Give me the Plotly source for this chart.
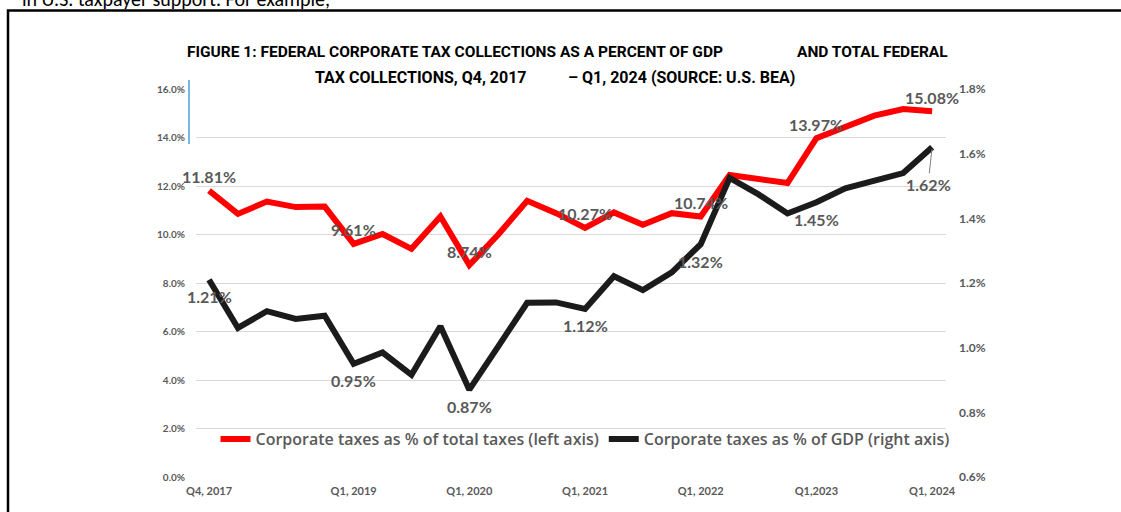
import plotly.graph_objects as go

# ---- data ----
quarters = ["Q4, 2017", "Q1, 2018", "Q2, 2018", "Q3, 2018", "Q4, 2018",
            "Q1, 2019", "Q2, 2019", "Q3, 2019", "Q4, 2019",
            "Q1, 2020", "Q2, 2020", "Q3, 2020", "Q4, 2020",
            "Q1, 2021", "Q2, 2021", "Q3, 2021", "Q4, 2021",
            "Q1, 2022", "Q2, 2022", "Q3, 2022", "Q4, 2022",
            "Q1,2023", "Q2, 2023", "Q3, 2023", "Q4, 2023",
            "Q1, 2024"]
pct_total_taxes = [11.81, 10.85, 11.36, 11.13, 11.15,
                   9.61, 10.02, 9.41, 10.74,
                   8.74, 10.00, 11.39, 10.88,
                   10.27, 10.91, 10.40, 10.88,
                   10.74, 12.45, 12.26, 12.12,
                   13.97, 14.46, 14.90, 15.17,
                   15.08]
pct_gdp = [1.21, 1.061, 1.113, 1.089, 1.099,
           0.95, 0.985, 0.916, 1.066,
           0.87, 1.004, 1.139, 1.140,
           1.12, 1.221, 1.178, 1.233,
           1.32, 1.525, 1.474, 1.415,
           1.45, 1.493, 1.518, 1.540,
           1.62]
tick_idx = [0, 5, 9, 13, 17, 21, 25]
label_idx = [0, 5, 9, 13, 17, 21, 25]
series_names = ["Corporate taxes as % of total taxes (left axis)",
                "Corporate taxes as % of GDP (right axis)"]
title_1a = "FIGURE 1: FEDERAL CORPORATE TAX COLLECTIONS AS A PERCENT OF GDP"
title_1b = "AND TOTAL FEDERAL"
title_2a = "TAX COLLECTIONS, Q4, 2017"
title_2b = "– Q1, 2024 (SOURCE: U.S. BEA)"
doc_text = "in U.S. taxpayer support. For example,"

# ---- layout geometry helpers (pixel -> paper) ----
W, H = 1121, 512
ML, MR, MT, MB = 196, 175, 89, 35
PW, PH = W - ML - MR, H - MT - MB
def px(xp):
    return (xp - ML) / PW
def py(yp):
    return (H - MB - yp) / PH

x = list(range(len(quarters)))
GRAY = "#595959"
FONT = "Lato"
TFONT = "Roboto"

fig = go.Figure()
fig.add_trace(go.Scatter(x=x, y=pct_total_taxes, mode="lines", name=series_names[0],
                         line=dict(color="#ff0000", width=6), yaxis="y"))
fig.add_trace(go.Scatter(x=x, y=pct_gdp, mode="lines", name=series_names[1],
                         line=dict(color="#1b1b1b", width=6), yaxis="y2"))

ann = []
for i in label_idx:
    ann.append(dict(x=i, y=pct_total_taxes[i], xref="x", yref="y",
                    text=f"{pct_total_taxes[i]:.2f}%", showarrow=False, yshift=14,
                    font=dict(family=FONT, size=16, color=GRAY, weight="bold")))
for i in label_idx:
    if i == len(quarters) - 1:
        ann.append(dict(x=i, y=pct_gdp[i], xref="x", yref="y2",
                        text=f"{pct_gdp[i]:.2f}%", showarrow=True, arrowhead=0,
                        arrowwidth=1, arrowcolor="#808080", ax=-4, ay=37, standoff=2,
                        font=dict(family=FONT, size=16, color=GRAY, weight="bold")))
    else:
        ann.append(dict(x=i, y=pct_gdp[i], xref="x", yref="y2",
                        text=f"{pct_gdp[i]:.2f}%", showarrow=False, yshift=-17,
                        font=dict(family=FONT, size=16, color=GRAY, weight="bold")))

tfont = dict(family=TFONT, size=15.5, color="#000000", weight="bold")
tfont2 = dict(family=TFONT, size=16, color="#000000", weight="bold")
ann += [
    dict(x=px(185), y=py(52), xref="paper", yref="paper", text=title_1a, showarrow=False,
         xanchor="left", yanchor="middle", font=tfont),
    dict(x=px(795), y=py(52), xref="paper", yref="paper", text=title_1b, showarrow=False,
         xanchor="left", yanchor="middle", font=tfont),
    dict(x=px(313), y=py(77), xref="paper", yref="paper", text=title_2a, showarrow=False,
         xanchor="left", yanchor="middle", font=tfont2),
    dict(x=px(566), y=py(77), xref="paper", yref="paper", text=title_2b, showarrow=False,
         xanchor="left", yanchor="middle", font=tfont2),
    dict(x=px(20), y=py(13), xref="paper", yref="paper", text=doc_text, showarrow=False,
         xanchor="left", yanchor="bottom",
         font=dict(family="Carlito, Noto Sans", size=20, color="#000000")),
]

shapes = [
    dict(type="rect", xref="paper", yref="paper", x0=px(8), x1=px(1300),
         y0=py(700), y1=py(10.5), line=dict(color="#000000", width=2.5)),
    dict(type="line", xref="paper", yref="paper", x0=px(189), x1=px(189),
         y0=py(80), y1=py(144), line=dict(color="#4a9fd8", width=1.5)),
]

fig.update_layout(
    width=W, height=H, autosize=False,
    margin=dict(l=ML, r=MR, t=MT, b=MB),
    paper_bgcolor="white", plot_bgcolor="white",
    showlegend=True,
    legend=dict(orientation="h", x=px(585), xanchor="center", y=py(439), yanchor="middle",
                font=dict(family="Open Sans", size=16, color=GRAY, weight=600),
                bgcolor="rgba(0,0,0,0)", itemwidth=30, tracegroupgap=0),
    xaxis=dict(range=[-0.45, 25.48], tickmode="array", tickvals=tick_idx,
               ticktext=[quarters[i] for i in tick_idx], showgrid=False, zeroline=False,
               showline=False, ticks="", ticklabelstandoff=6,
               tickfont=dict(family=FONT, size=11, color=GRAY, weight="bold")),
    yaxis=dict(range=[0, 16], dtick=2, tickformat=".1f", ticksuffix="%",
               showgrid=True, gridcolor="#d9d9d9", gridwidth=1, zeroline=False,
               showline=False, ticks="", ticklabelstandoff=10,
               tickfont=dict(family=FONT, size=10, color=GRAY, weight="bold")),
    yaxis2=dict(range=[0.6, 1.8], dtick=0.2, tickformat=".1f", ticksuffix="%",
                overlaying="y", side="right", showgrid=False, zeroline=False,
                showline=False, ticks="", ticklabelstandoff=12,
                tickfont=dict(family=FONT, size=12, color=GRAY, weight="bold")),
    annotations=ann, shapes=shapes,
)

fig.write_html("out.html")
